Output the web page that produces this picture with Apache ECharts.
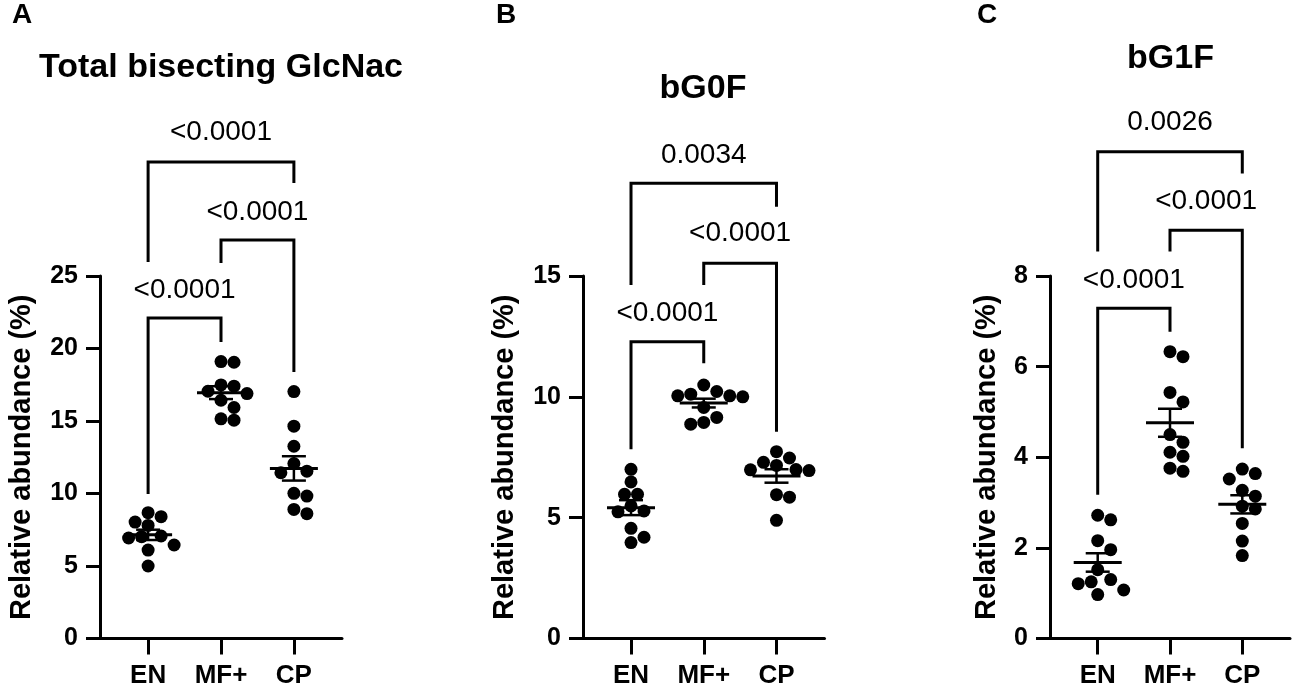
<!DOCTYPE html>
<html>
<head>
<meta charset="utf-8">
<script src="https://cdn.jsdelivr.net/npm/echarts@6/dist/echarts.min.js"></script>
<style>
html, body { margin: 0; padding: 0; background: #fff; }
#main { width: 1299px; height: 689px; }
</style>
</head>
<body>
<div id="main"></div>
<script>
var groups = ['EN', 'MF+', 'CP'];

// Total bisecting GlcNac (%)
var totalEN = [8.68, 8.40, 8.03, 7.80, 7.02, 7.07, 6.93, 6.45, 6.10, 5.00];
var totalMF = [19.05, 19.10, 17.40, 17.49, 16.89, 17.05, 16.43, 15.93, 15.06, 15.15];
var totalCP = [17.03, 14.64, 13.26, 12.07, 11.43, 11.54, 9.82, 10.01, 8.61, 8.90];

// bG0F (%)
var g0fEN = [7.00, 6.48, 5.97, 5.97, 5.28, 5.49, 5.24, 4.56, 3.97, 4.19];
var g0fMF = [10.49, 10.04, 10.04, 10.00, 10.11, 10.22, 9.56, 9.15, 8.87, 8.94];
var g0fCP = [7.73, 7.47, 7.16, 7.29, 6.99, 6.95, 6.98, 5.95, 5.85, 4.89];

// bG1F (%)
var g1fEN = [2.62, 2.72, 2.16, 1.96, 1.52, 1.30, 1.25, 1.21, 1.07, 0.97];
var g1fMF = [6.22, 6.33, 5.22, 5.43, 4.50, 4.33, 4.02, 4.11, 3.69, 3.76];
var g1fCP = [3.74, 3.64, 3.52, 3.27, 3.14, 2.92, 2.86, 2.54, 2.15, 1.83];

// comparisons: EN vs MF+, MF+ vs CP, EN vs CP
var pairs = [[0, 1], [1, 2], [0, 2]];
var pTotal = ['<0.0001', '<0.0001', '<0.0001'];
var pG0F = ['<0.0001', '<0.0001', '0.0034'];
var pG1F = ['<0.0001', '<0.0001', '0.0026'];

var FONT = '"Liberation Sans", Arial, Helvetica, sans-serif';
var DOT = 13;
var GRID_TOP = 276, GRID_H = 362.5;
var XMIN = 0.34, XMAX = 3.66;

// bracket layout per comparison, in axis units: [bar, left leg end, right leg end, label]
var panels = [
    { letter: 'A', letterX: 22, title: 'Total bisecting GlcNac', titleX: 221, titleY: 68,
      values: [totalEN, totalMF, totalCP], p: pTotal, max: 25, step: 5,
      left: 100, width: 242, nameGap: 64,
      brackets: [[22.1, 9.96, 20.45, 24.04], [27.49, 25.9, 18.38, 29.42], [32.87, 25.97, 31.42, 34.94]] },
    { letter: 'B', letterX: 506, title: 'bG0F', titleX: 703, titleY: 89,
      values: [g0fEN, g0fMF, g0fCP], p: pG0F, max: 15, step: 5,
      left: 583, width: 241.5, nameGap: 64,
      brackets: [[12.28, 7.83, 11.39, 13.46], [15.53, 14.63, 8.56, 16.77], [18.84, 14.63, 17.87, 20.01]] },
    { letter: 'C', letterX: 987, title: 'bG1F', titleX: 1170.5, titleY: 59,
      values: [g1fEN, g1fMF, g1fCP], p: pG1F, max: 8, step: 2,
      left: 1050, width: 240, nameGap: 49,
      brackets: [[7.29, 3.17, 6.77, 7.91], [9.01, 8.54, 4.20, 9.65], [10.74, 8.54, 10.26, 11.40]] }
];

// simple beeswarm: nudge dots sideways in half-dot steps until they stop overlapping
function swarm(vals, pxY, pxX) {
    var placed = [];
    var out = [];
    var order = vals.map(function (v, i) { return i; })
        .sort(function (a, b) { return vals[b] - vals[a]; });
    order.forEach(function (i) {
        var y = vals[i] * pxY;
        for (var k = 0; k < 40; k++) {
            var off = (k % 2 === 1 ? 1 : -1) * Math.ceil(k / 2) * DOT / 2;
            var hit = placed.some(function (p) {
                var dx = p[0] - off, dy = p[1] - y;
                return dx * dx + dy * dy < (DOT - 0.5) * (DOT - 0.5);
            });
            if (!hit) { placed.push([off, y]); out[i] = off / pxX; break; }
        }
    });
    return out;
}

function meanSem(arr) {
    var n = arr.length;
    var m = arr.reduce(function (a, b) { return a + b; }, 0) / n;
    var ss = arr.reduce(function (a, b) { return a + (b - m) * (b - m); }, 0);
    return [m, Math.sqrt(ss / (n - 1)) / Math.sqrt(n)];
}

var grids = [], xAxes = [], yAxes = [], series = [], graphics = [];

panels.forEach(function (pn, gi) {
    grids.push({ left: pn.left, top: GRID_TOP, width: pn.width, height: GRID_H });

    xAxes.push({
        gridIndex: gi, type: 'value', min: XMIN, max: XMAX,
        axisLine: { show: true, onZero: false, lineStyle: { color: '#000', width: 3 } },
        axisTick: { show: true, customValues: [1, 2, 3], length: 16, lineStyle: { color: '#000', width: 3 } },
        axisLabel: {
            customValues: [1, 2, 3], margin: 24, color: '#000', fontFamily: FONT,
            fontSize: 26, fontWeight: 'bold',
            formatter: function (v) { return groups[Math.round(v) - 1]; }
        },
        splitLine: { show: false }
    });

    yAxes.push({
        gridIndex: gi, type: 'value', min: 0, max: pn.max, interval: pn.step,
        name: 'Relative abundance (%)', nameLocation: 'middle', nameGap: pn.nameGap,
        nameTextStyle: { fontFamily: FONT, fontSize: 29, fontWeight: 'bold', color: '#000' },
        axisLine: { show: true, onZero: false, lineStyle: { color: '#000', width: 3 } },
        axisTick: { show: true, length: 14, lineStyle: { color: '#000', width: 3 } },
        axisLabel: { margin: 22, color: '#000', fontFamily: FONT, fontSize: 25, fontWeight: 'bold' },
        splitLine: { show: false }
    });

    var pxY = GRID_H / pn.max;
    var pxX = pn.width / (XMAX - XMIN);

    var dots = [];
    var stats = [];
    pn.values.forEach(function (vals, k) {
        var offs = swarm(vals, pxY, pxX);
        vals.forEach(function (v, i) { dots.push([k + 1 + offs[i], v]); });
        var ms = meanSem(vals);
        stats.push([k + 1, ms[0], ms[1]]);
    });

    series.push({
        type: 'scatter', xAxisIndex: gi, yAxisIndex: gi,
        symbol: 'circle', symbolSize: DOT,
        itemStyle: { color: '#000', opacity: 1 },
        data: dots, z: 2
    });

    series.push({
        type: 'custom', xAxisIndex: gi, yAxisIndex: gi, z: 3,
        data: stats,
        renderItem: function (params, api) {
            var x = api.value(0), m = api.value(1), s = api.value(2);
            var c = api.coord([x, m]), hi = api.coord([x, m + s]), lo = api.coord([x, m - s]);
            var st = { stroke: '#000', lineWidth: 2.5 };
            return {
                type: 'group',
                children: [
                    { type: 'line', shape: { x1: c[0] - 24, y1: c[1], x2: c[0] + 24, y2: c[1] },
                      style: { stroke: '#000', lineWidth: 3 } },
                    { type: 'line', shape: { x1: c[0], y1: hi[1], x2: c[0], y2: lo[1] }, style: st },
                    { type: 'line', shape: { x1: c[0] - 12, y1: hi[1], x2: c[0] + 12, y2: hi[1] }, style: st },
                    { type: 'line', shape: { x1: c[0] - 12, y1: lo[1], x2: c[0] + 12, y2: lo[1] }, style: st }
                ]
            };
        }
    });

    var bdata = pn.brackets.map(function (b, i) {
        return [pairs[i][0] + 1, pairs[i][1] + 1, b[0], b[1], b[2], b[3]];
    });
    series.push({
        type: 'custom', xAxisIndex: gi, yAxisIndex: gi, clip: false, z: 4,
        encode: { x: [0, 1], y: [2, 3, 4, 5] },
        data: bdata,
        renderItem: function (params, api) {
            var x1 = api.value(0), x2 = api.value(1);
            var top = api.value(2), l = api.value(3), r = api.value(4), ly = api.value(5);
            var a = api.coord([x1, l]), b = api.coord([x1, top]);
            var c = api.coord([x2, top]), d = api.coord([x2, r]);
            var t = api.coord([(x1 + x2) / 2, ly]);
            return {
                type: 'group',
                children: [
                    { type: 'polyline', shape: { points: [a, b, c, d] },
                      style: { stroke: '#000', lineWidth: 3, fill: null } },
                    { type: 'text', x: t[0], y: t[1],
                      style: { text: pn.p[params.dataIndex], fill: '#000', align: 'center',
                               verticalAlign: 'middle', font: '28px ' + FONT } }
                ]
            };
        }
    });

    graphics.push({
        type: 'text', x: pn.titleX, y: pn.titleY,
        style: { text: pn.title, fill: '#000', align: 'center', verticalAlign: 'middle',
                 font: 'bold 34px ' + FONT }
    });
    graphics.push({
        type: 'text', x: pn.letterX, y: 15,
        style: { text: pn.letter, fill: '#000', align: 'center', verticalAlign: 'middle',
                 font: 'bold 28px ' + FONT }
    });
});

var myChart = echarts.init(document.getElementById('main'));
myChart.setOption({
    animation: false,
    backgroundColor: '#fff',
    grid: grids,
    xAxis: xAxes,
    yAxis: yAxes,
    series: series,
    graphic: graphics
});
</script>
</body>
</html>
